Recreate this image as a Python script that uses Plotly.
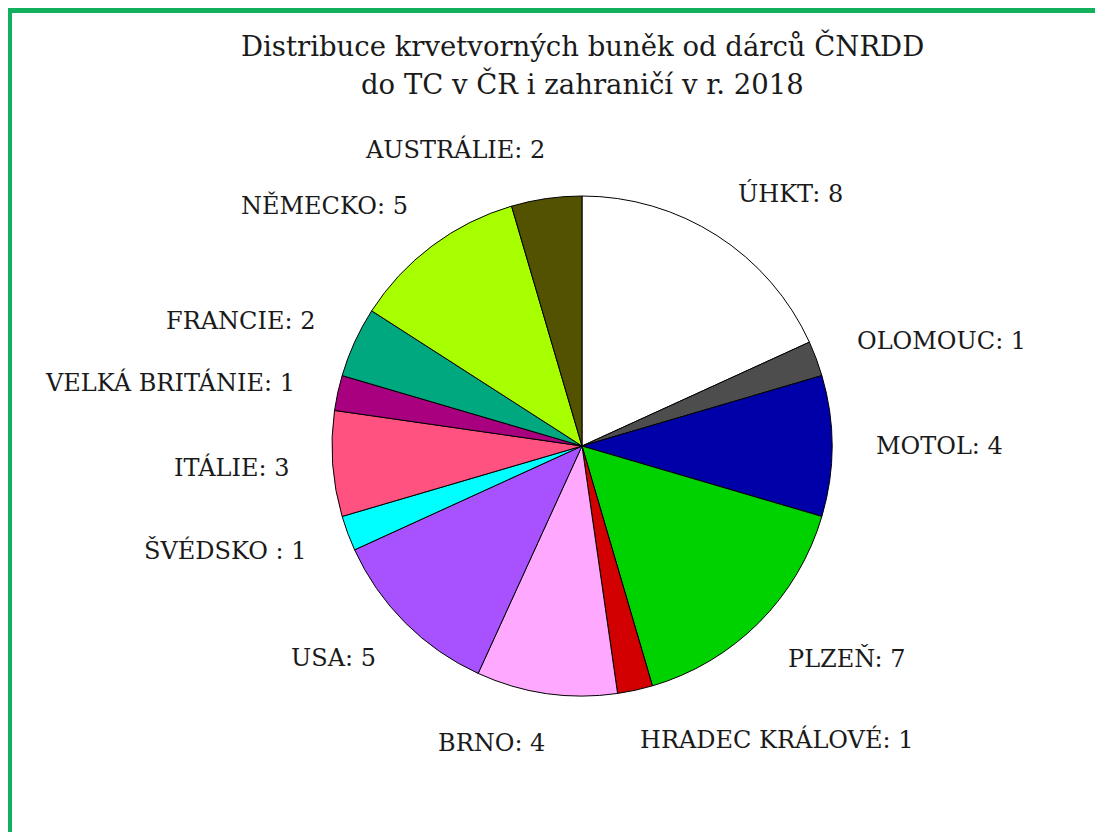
import math
import plotly.graph_objects as go

labels = ["ÚHKT", "OLOMOUC", "MOTOL", "PLZEŇ", "HRADEC KRÁLOVÉ", "BRNO", "USA",
          "ŠVÉDSKO ", "ITÁLIE", "VELKÁ BRITÁNIE", "FRANCIE", "NĚMECKO", "AUSTRÁLIE"]
values = [8, 1, 4, 7, 1, 4, 5, 1, 3, 1, 2, 5, 2]
colors = ["#ffffff", "#4d4d4d", "#0000a8", "#00d200", "#d20000", "#ffa8ff", "#a852ff",
          "#00ffff", "#ff5280", "#a8007f", "#00a87f", "#a8ff00", "#525200"]
title_lines = ["Distribuce krvetvorných buněk od dárců ČNRDD",
               "do TC v ČR i zahraničí v r. 2018"]

W, H = 1095, 824          # figure size (page body adds 8 px offset)
OFF = 8
CX, CY, R = 582, 446, 250  # pie centre / radius in page pixels
LABEL_R = 1.2 * R
PAD = 8                    # horizontal inward padding of labels
FONT = "DejaVu Serif"


def px(ax):
    return (ax - OFF) / W


def py(ay):
    return 1 - (ay - OFF) / H


fig = go.Figure(go.Pie(
    labels=labels, values=values, sort=False, direction="clockwise", rotation=0,
    marker=dict(colors=colors, line=dict(color="black", width=1)),
    textinfo="none", hoverinfo="label+value",
    domain=dict(x=[px(CX - R), px(CX + R)], y=[py(CY + R), py(CY - R)]),
    showlegend=False,
))

total = sum(values)
cum = 0
annotations = []
for lab, v in zip(labels, values):
    mid = (cum + v / 2) / total * 2 * math.pi
    cum += v
    s, c = math.sin(mid), math.cos(mid)
    right = s > 0
    ax = CX + LABEL_R * s + (-PAD if right else PAD)
    ay = CY - LABEL_R * c
    annotations.append(dict(
        x=px(ax), y=py(ay), xref="paper", yref="paper",
        text=f"{lab}: {v}", showarrow=False,
        xanchor="left" if right else "right", yanchor="middle",
        font=dict(family=FONT, size=24, color="#1a1a1a"),
    ))

annotations.append(dict(x=px(CX), y=py(45), xref="paper", yref="paper",
                        text=title_lines[0], showarrow=False, xanchor="center", yanchor="middle",
                        font=dict(family=FONT, size=27.5, color="#1a1a1a")))
annotations.append(dict(x=px(CX), y=py(83), xref="paper", yref="paper",
                        text=title_lines[1], showarrow=False, xanchor="center", yanchor="middle",
                        font=dict(family=FONT, size=27.5, color="#1a1a1a")))

fig.update_layout(
    width=W, height=H,
    margin=dict(l=0, r=0, t=0, b=0),
    paper_bgcolor="white", plot_bgcolor="white",
    annotations=annotations,
    shapes=[dict(type="rect", xref="paper", yref="paper",
                 x0=px(9.5), y0=py(1000), x1=px(1300), y1=py(10.5),
                 line=dict(color="#12b05c", width=5), fillcolor="rgba(0,0,0,0)")],
)

fig.write_html("out.html")
